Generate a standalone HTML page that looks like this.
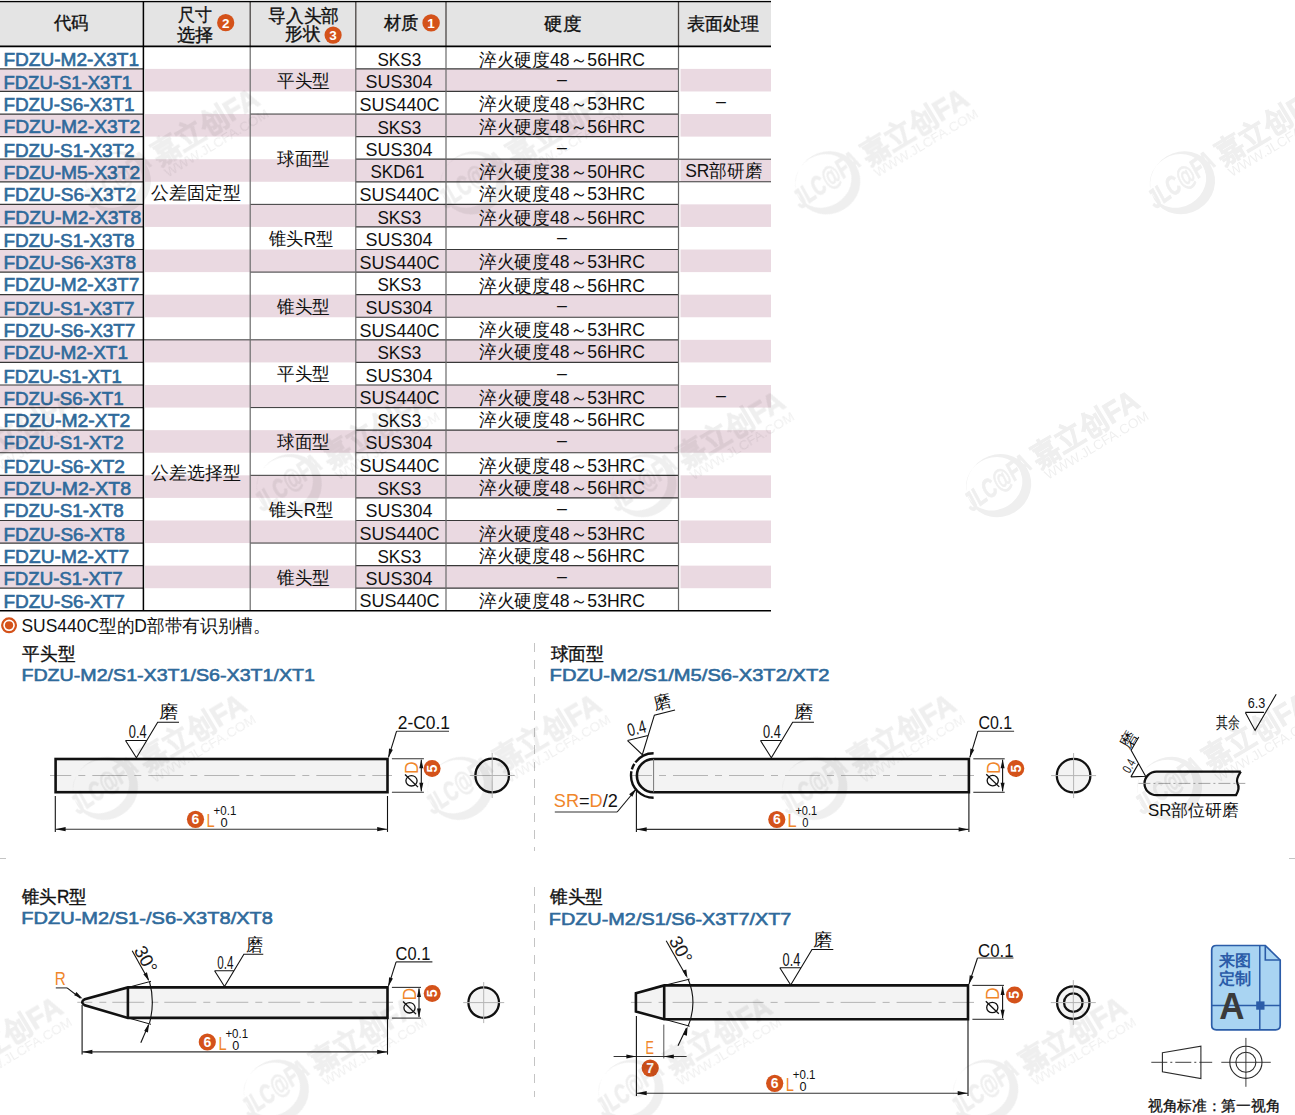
<!DOCTYPE html>
<html><head><meta charset="utf-8"><style>
html,body{margin:0;padding:0;background:#fff;}
body{width:1295px;height:1115px;overflow:hidden;position:relative;}
svg{position:absolute;left:0;top:0;}
svg text{font-family:"Liberation Sans", sans-serif;}
</style></head><body>
<svg width="1295" height="1115" viewBox="0 0 1295 1115">
<rect x="0.00" y="0.00" width="771.00" height="46.30" fill="#e4e4e4" />
<rect x="0.00" y="68.88" width="143.00" height="22.58" fill="#ead9e1" />
<rect x="145.00" y="68.88" width="105.20" height="22.58" fill="#ead9e1" />
<rect x="250.20" y="68.88" width="428.30" height="22.58" fill="#ead9e1" />
<rect x="680.50" y="68.88" width="90.50" height="22.58" fill="#ead9e1" />
<rect x="0.00" y="114.04" width="143.00" height="22.58" fill="#ead9e1" />
<rect x="145.00" y="114.04" width="105.20" height="22.58" fill="#ead9e1" />
<rect x="250.20" y="114.04" width="428.30" height="22.58" fill="#ead9e1" />
<rect x="680.50" y="114.04" width="90.50" height="22.58" fill="#ead9e1" />
<rect x="0.00" y="159.20" width="143.00" height="22.58" fill="#ead9e1" />
<rect x="145.00" y="159.20" width="105.20" height="22.58" fill="#ead9e1" />
<rect x="250.20" y="159.20" width="428.30" height="22.58" fill="#ead9e1" />
<rect x="680.50" y="159.20" width="90.50" height="22.58" fill="#ead9e1" />
<rect x="0.00" y="204.36" width="143.00" height="22.58" fill="#ead9e1" />
<rect x="145.00" y="204.36" width="105.20" height="22.58" fill="#ead9e1" />
<rect x="250.20" y="204.36" width="428.30" height="22.58" fill="#ead9e1" />
<rect x="680.50" y="204.36" width="90.50" height="22.58" fill="#ead9e1" />
<rect x="0.00" y="249.52" width="143.00" height="22.58" fill="#ead9e1" />
<rect x="145.00" y="249.52" width="105.20" height="22.58" fill="#ead9e1" />
<rect x="250.20" y="249.52" width="428.30" height="22.58" fill="#ead9e1" />
<rect x="680.50" y="249.52" width="90.50" height="22.58" fill="#ead9e1" />
<rect x="0.00" y="294.68" width="143.00" height="22.58" fill="#ead9e1" />
<rect x="145.00" y="294.68" width="105.20" height="22.58" fill="#ead9e1" />
<rect x="250.20" y="294.68" width="428.30" height="22.58" fill="#ead9e1" />
<rect x="680.50" y="294.68" width="90.50" height="22.58" fill="#ead9e1" />
<rect x="0.00" y="339.84" width="143.00" height="22.58" fill="#ead9e1" />
<rect x="145.00" y="339.84" width="105.20" height="22.58" fill="#ead9e1" />
<rect x="250.20" y="339.84" width="428.30" height="22.58" fill="#ead9e1" />
<rect x="680.50" y="339.84" width="90.50" height="22.58" fill="#ead9e1" />
<rect x="0.00" y="385.00" width="143.00" height="22.58" fill="#ead9e1" />
<rect x="145.00" y="385.00" width="105.20" height="22.58" fill="#ead9e1" />
<rect x="250.20" y="385.00" width="428.30" height="22.58" fill="#ead9e1" />
<rect x="680.50" y="385.00" width="90.50" height="22.58" fill="#ead9e1" />
<rect x="0.00" y="430.16" width="143.00" height="22.58" fill="#ead9e1" />
<rect x="145.00" y="430.16" width="105.20" height="22.58" fill="#ead9e1" />
<rect x="250.20" y="430.16" width="428.30" height="22.58" fill="#ead9e1" />
<rect x="680.50" y="430.16" width="90.50" height="22.58" fill="#ead9e1" />
<rect x="0.00" y="475.32" width="143.00" height="22.58" fill="#ead9e1" />
<rect x="145.00" y="475.32" width="105.20" height="22.58" fill="#ead9e1" />
<rect x="250.20" y="475.32" width="428.30" height="22.58" fill="#ead9e1" />
<rect x="680.50" y="475.32" width="90.50" height="22.58" fill="#ead9e1" />
<rect x="0.00" y="520.48" width="143.00" height="22.58" fill="#ead9e1" />
<rect x="145.00" y="520.48" width="105.20" height="22.58" fill="#ead9e1" />
<rect x="250.20" y="520.48" width="428.30" height="22.58" fill="#ead9e1" />
<rect x="680.50" y="520.48" width="90.50" height="22.58" fill="#ead9e1" />
<rect x="0.00" y="565.64" width="143.00" height="22.58" fill="#ead9e1" />
<rect x="145.00" y="565.64" width="105.20" height="22.58" fill="#ead9e1" />
<rect x="250.20" y="565.64" width="428.30" height="22.58" fill="#ead9e1" />
<rect x="680.50" y="565.64" width="90.50" height="22.58" fill="#ead9e1" />
<line x1="0.00" y1="68.88" x2="143.00" y2="68.88" stroke="#383838" stroke-width="1.2" />
<line x1="355.80" y1="68.88" x2="678.50" y2="68.88" stroke="#383838" stroke-width="1.2" />
<line x1="0.00" y1="91.46" x2="143.00" y2="91.46" stroke="#383838" stroke-width="1.2" />
<line x1="355.80" y1="91.46" x2="678.50" y2="91.46" stroke="#383838" stroke-width="1.2" />
<line x1="0.00" y1="114.04" x2="143.00" y2="114.04" stroke="#383838" stroke-width="1.2" />
<line x1="355.80" y1="114.04" x2="678.50" y2="114.04" stroke="#383838" stroke-width="1.2" />
<line x1="0.00" y1="136.62" x2="143.00" y2="136.62" stroke="#383838" stroke-width="1.2" />
<line x1="355.80" y1="136.62" x2="678.50" y2="136.62" stroke="#383838" stroke-width="1.2" />
<line x1="0.00" y1="159.20" x2="143.00" y2="159.20" stroke="#383838" stroke-width="1.2" />
<line x1="355.80" y1="159.20" x2="678.50" y2="159.20" stroke="#383838" stroke-width="1.2" />
<line x1="0.00" y1="181.78" x2="143.00" y2="181.78" stroke="#383838" stroke-width="1.2" />
<line x1="355.80" y1="181.78" x2="678.50" y2="181.78" stroke="#383838" stroke-width="1.2" />
<line x1="0.00" y1="204.36" x2="143.00" y2="204.36" stroke="#383838" stroke-width="1.2" />
<line x1="355.80" y1="204.36" x2="678.50" y2="204.36" stroke="#383838" stroke-width="1.2" />
<line x1="0.00" y1="226.94" x2="143.00" y2="226.94" stroke="#383838" stroke-width="1.2" />
<line x1="355.80" y1="226.94" x2="678.50" y2="226.94" stroke="#383838" stroke-width="1.2" />
<line x1="0.00" y1="249.52" x2="143.00" y2="249.52" stroke="#383838" stroke-width="1.2" />
<line x1="355.80" y1="249.52" x2="678.50" y2="249.52" stroke="#383838" stroke-width="1.2" />
<line x1="0.00" y1="272.10" x2="143.00" y2="272.10" stroke="#383838" stroke-width="1.2" />
<line x1="355.80" y1="272.10" x2="678.50" y2="272.10" stroke="#383838" stroke-width="1.2" />
<line x1="0.00" y1="294.68" x2="143.00" y2="294.68" stroke="#383838" stroke-width="1.2" />
<line x1="355.80" y1="294.68" x2="678.50" y2="294.68" stroke="#383838" stroke-width="1.2" />
<line x1="0.00" y1="317.26" x2="143.00" y2="317.26" stroke="#383838" stroke-width="1.2" />
<line x1="355.80" y1="317.26" x2="678.50" y2="317.26" stroke="#383838" stroke-width="1.2" />
<line x1="0.00" y1="339.84" x2="143.00" y2="339.84" stroke="#383838" stroke-width="1.2" />
<line x1="355.80" y1="339.84" x2="678.50" y2="339.84" stroke="#383838" stroke-width="1.2" />
<line x1="0.00" y1="362.42" x2="143.00" y2="362.42" stroke="#383838" stroke-width="1.2" />
<line x1="355.80" y1="362.42" x2="678.50" y2="362.42" stroke="#383838" stroke-width="1.2" />
<line x1="0.00" y1="385.00" x2="143.00" y2="385.00" stroke="#383838" stroke-width="1.2" />
<line x1="355.80" y1="385.00" x2="678.50" y2="385.00" stroke="#383838" stroke-width="1.2" />
<line x1="0.00" y1="407.58" x2="143.00" y2="407.58" stroke="#383838" stroke-width="1.2" />
<line x1="355.80" y1="407.58" x2="678.50" y2="407.58" stroke="#383838" stroke-width="1.2" />
<line x1="0.00" y1="430.16" x2="143.00" y2="430.16" stroke="#383838" stroke-width="1.2" />
<line x1="355.80" y1="430.16" x2="678.50" y2="430.16" stroke="#383838" stroke-width="1.2" />
<line x1="0.00" y1="452.74" x2="143.00" y2="452.74" stroke="#383838" stroke-width="1.2" />
<line x1="355.80" y1="452.74" x2="678.50" y2="452.74" stroke="#383838" stroke-width="1.2" />
<line x1="0.00" y1="475.32" x2="143.00" y2="475.32" stroke="#383838" stroke-width="1.2" />
<line x1="355.80" y1="475.32" x2="678.50" y2="475.32" stroke="#383838" stroke-width="1.2" />
<line x1="0.00" y1="497.90" x2="143.00" y2="497.90" stroke="#383838" stroke-width="1.2" />
<line x1="355.80" y1="497.90" x2="678.50" y2="497.90" stroke="#383838" stroke-width="1.2" />
<line x1="0.00" y1="520.48" x2="143.00" y2="520.48" stroke="#383838" stroke-width="1.2" />
<line x1="355.80" y1="520.48" x2="678.50" y2="520.48" stroke="#383838" stroke-width="1.2" />
<line x1="0.00" y1="543.06" x2="143.00" y2="543.06" stroke="#383838" stroke-width="1.2" />
<line x1="355.80" y1="543.06" x2="678.50" y2="543.06" stroke="#383838" stroke-width="1.2" />
<line x1="0.00" y1="565.64" x2="143.00" y2="565.64" stroke="#383838" stroke-width="1.2" />
<line x1="355.80" y1="565.64" x2="678.50" y2="565.64" stroke="#383838" stroke-width="1.2" />
<line x1="0.00" y1="588.22" x2="143.00" y2="588.22" stroke="#383838" stroke-width="1.2" />
<line x1="355.80" y1="588.22" x2="678.50" y2="588.22" stroke="#383838" stroke-width="1.2" />
<line x1="250.20" y1="114.04" x2="355.80" y2="114.04" stroke="#383838" stroke-width="1.0" />
<line x1="250.20" y1="204.36" x2="355.80" y2="204.36" stroke="#383838" stroke-width="1.0" />
<line x1="250.20" y1="272.10" x2="355.80" y2="272.10" stroke="#383838" stroke-width="1.0" />
<line x1="250.20" y1="339.84" x2="355.80" y2="339.84" stroke="#383838" stroke-width="1.0" />
<line x1="250.20" y1="407.58" x2="355.80" y2="407.58" stroke="#383838" stroke-width="1.0" />
<line x1="250.20" y1="475.32" x2="355.80" y2="475.32" stroke="#383838" stroke-width="1.0" />
<line x1="250.20" y1="543.06" x2="355.80" y2="543.06" stroke="#383838" stroke-width="1.0" />
<line x1="143.00" y1="339.84" x2="250.20" y2="339.84" stroke="#383838" stroke-width="1.0" />
<line x1="678.50" y1="159.20" x2="771.00" y2="159.20" stroke="#383838" stroke-width="1.0" />
<line x1="678.50" y1="181.78" x2="771.00" y2="181.78" stroke="#383838" stroke-width="1.0" />
<line x1="143.40" y1="1.60" x2="143.40" y2="610.80" stroke="#000" stroke-width="1.5" />
<line x1="250.20" y1="1.60" x2="250.20" y2="46.30" stroke="#4a4644" stroke-width="1.3" />
<line x1="250.20" y1="46.30" x2="250.20" y2="610.80" stroke="#6a6a6a" stroke-width="1.2" />
<line x1="355.80" y1="1.60" x2="355.80" y2="46.30" stroke="#4a4644" stroke-width="1.3" />
<line x1="355.80" y1="46.30" x2="355.80" y2="610.80" stroke="#6a6a6a" stroke-width="1.2" />
<line x1="446.00" y1="1.60" x2="446.00" y2="46.30" stroke="#4a4644" stroke-width="1.3" />
<line x1="446.00" y1="46.30" x2="446.00" y2="610.80" stroke="#6a6a6a" stroke-width="1.2" />
<line x1="678.50" y1="1.60" x2="678.50" y2="46.30" stroke="#4a4644" stroke-width="1.3" />
<line x1="678.50" y1="46.30" x2="678.50" y2="610.80" stroke="#6a6a6a" stroke-width="1.2" />
<line x1="0.00" y1="1.60" x2="771.00" y2="1.60" stroke="#000" stroke-width="1.2" />
<line x1="0.00" y1="46.30" x2="771.00" y2="46.30" stroke="#000" stroke-width="1.8" />
<line x1="0.00" y1="610.80" x2="771.00" y2="610.80" stroke="#000" stroke-width="1.6" />
<circle cx="225.70" cy="22.70" r="8.6" fill="#d4521a"/>
<circle cx="333.10" cy="35.10" r="8.6" fill="#d4521a"/>
<circle cx="431.10" cy="22.90" r="8.7" fill="#d4521a"/>
<circle cx="9.05" cy="625.3" r="6.9" fill="none" stroke="#d4521a" stroke-width="2.2"/>
<circle cx="9.05" cy="625.3" r="4.1" fill="#d4521a"/>
<line x1="534.50" y1="643.00" x2="534.50" y2="851.00" stroke="#c4c4c4" stroke-width="1" stroke-dasharray="9 8"/>
<line x1="534.50" y1="887.00" x2="534.50" y2="1097.00" stroke="#c4c4c4" stroke-width="1" stroke-dasharray="9 8"/>
<line x1="0.00" y1="858.50" x2="6.00" y2="858.50" stroke="#c4c4c4" stroke-width="1" />
<line x1="1289.00" y1="858.50" x2="1295.00" y2="858.50" stroke="#c4c4c4" stroke-width="1" />
<rect x="55.6" y="759" width="331.9" height="33.2" fill="#f3f3f3"/>
<line x1="50.00" y1="775.50" x2="392.00" y2="775.50" stroke="#b4b4b4" stroke-width="1" stroke-dasharray="35 7 7 7" stroke-dashoffset="13.7"/>
<rect x="55.6" y="759" width="331.9" height="33.2" fill="none" stroke="#111" stroke-width="2.6"/>
<path d="M125.50,740.50 L146.70,740.50 M125.50,740.50 L136.40,757.80 L157.70,722.30 L179.00,722.30" fill="none" stroke="#111" stroke-width="1.1" />
<line x1="396.60" y1="731.20" x2="449.00" y2="731.20" stroke="#333" stroke-width="1.1" />
<line x1="396.60" y1="731.20" x2="388.50" y2="757.30" stroke="#111" stroke-width="1.1" />
<path d="M388.30,757.80 L389.07,748.61 L392.89,749.80 Z" fill="#111"/>
<line x1="391.90" y1="758.80" x2="423.90" y2="758.80" stroke="#333" stroke-width="1.1" />
<line x1="391.90" y1="792.30" x2="423.90" y2="792.30" stroke="#333" stroke-width="1.1" />
<line x1="421.30" y1="759.80" x2="421.30" y2="791.30" stroke="#111" stroke-width="1.1" />
<path d="M421.30,759.30 L423.30,768.30 L419.30,768.30 Z" fill="#111"/>
<path d="M421.30,791.80 L419.30,782.80 L423.30,782.80 Z" fill="#111"/>
<ellipse cx="411.50" cy="780.80" rx="5.6" ry="5.2" fill="none" stroke="#111" stroke-width="1.3"/>
<line x1="405.00" y1="774.50" x2="418.00" y2="787.10" stroke="#111" stroke-width="1.3" />
<circle cx="432.10" cy="768.50" r="8.5" fill="#d4521a"/>
<circle cx="492.2" cy="775.5" r="16.8" fill="#f3f3f3" stroke="#111" stroke-width="2.3"/>
<line x1="469.70" y1="775.50" x2="514.70" y2="775.50" stroke="#b4b4b4" stroke-width="1" />
<line x1="492.20" y1="753.00" x2="492.20" y2="798.00" stroke="#b4b4b4" stroke-width="1" />
<line x1="55.30" y1="796.00" x2="55.30" y2="831.90" stroke="#111" stroke-width="1.1" />
<line x1="387.50" y1="796.00" x2="387.50" y2="831.90" stroke="#111" stroke-width="1.1" />
<line x1="55.30" y1="829.20" x2="387.50" y2="829.20" stroke="#333" stroke-width="1.1" />
<path d="M55.60,829.20 L65.60,827.10 L65.60,831.30 Z" fill="#111"/>
<path d="M387.20,829.20 L377.20,831.30 L377.20,827.10 Z" fill="#111"/>
<circle cx="195.50" cy="819.30" r="8.6" fill="#d4521a"/>
<path d="M968.9,759 L653.6,759 A16.7,16.65 0 0 0 653.6,792.3 L968.9,792.3 Z" fill="#f3f3f3" stroke="none" stroke-width="1" />
<line x1="632.00" y1="775.50" x2="974.00" y2="775.50" stroke="#b4b4b4" stroke-width="1" stroke-dasharray="35 7 7 7" stroke-dashoffset="15"/>
<path d="M968.9,759 L653.6,759 A16.7,16.65 0 0 0 653.6,792.3 L968.9,792.3 Z" fill="none" stroke="#111" stroke-width="2.6" />
<line x1="653.60" y1="759.00" x2="653.60" y2="792.30" stroke="#777" stroke-width="1" />
<path d="M653.6,753.2 A22.6,22.3 0 0 0 653.6,797.8" fill="none" stroke="#111" stroke-width="2.4" stroke-dasharray="21 1.8 6 1.8 40"/>
<path d="M760.45,740.50 L781.65,740.50 M760.45,740.50 L771.35,757.80 L792.65,722.30 L813.95,722.30" fill="none" stroke="#111" stroke-width="1.1" />
<g transform="translate(642.3 754.7) rotate(-14) scale(1.0)">
<path d="M-10.9,-17.3 L10.3,-17.3 M-10.9,-17.3 L0,0 L21.3,-35.5 L42.6,-35.5" fill="none" stroke="#111" stroke-width="1.10"/>
<text x="-8.4" y="-20.9" font-size="18" fill="#111" textLength="18.6" lengthAdjust="spacingAndGlyphs">0.4</text>
<text x="22.60" y="-40.10" font-size="17.50" fill="#111" textLength="18.60" lengthAdjust="spacingAndGlyphs">磨</text>
</g>
<line x1="554.80" y1="812.00" x2="617.20" y2="812.00" stroke="#333" stroke-width="1.1" />
<line x1="617.20" y1="812.00" x2="635.50" y2="790.00" stroke="#111" stroke-width="1.1" />
<path d="M636.40,788.60 L632.24,796.83 L629.15,794.29 Z" fill="#111"/>
<line x1="977.90" y1="731.20" x2="1014.10" y2="731.20" stroke="#333" stroke-width="1.1" />
<line x1="977.90" y1="731.20" x2="969.90" y2="757.30" stroke="#111" stroke-width="1.1" />
<path d="M969.70,757.80 L970.44,748.61 L974.26,749.79 Z" fill="#111"/>
<line x1="973.30" y1="758.80" x2="1004.70" y2="758.80" stroke="#333" stroke-width="1.1" />
<line x1="973.30" y1="792.30" x2="1004.70" y2="792.30" stroke="#333" stroke-width="1.1" />
<line x1="1002.60" y1="759.80" x2="1002.60" y2="791.30" stroke="#111" stroke-width="1.1" />
<path d="M1002.60,759.30 L1004.60,768.30 L1000.60,768.30 Z" fill="#111"/>
<path d="M1002.60,791.80 L1000.60,782.80 L1004.60,782.80 Z" fill="#111"/>
<ellipse cx="992.75" cy="780.60" rx="5.6" ry="5.2" fill="none" stroke="#111" stroke-width="1.3"/>
<line x1="986.25" y1="774.30" x2="999.25" y2="786.90" stroke="#111" stroke-width="1.3" />
<circle cx="1015.80" cy="768.50" r="8.5" fill="#d4521a"/>
<circle cx="1073.6" cy="775.6" r="16.8" fill="#f3f3f3" stroke="#111" stroke-width="2.3"/>
<line x1="1051.10" y1="775.60" x2="1096.10" y2="775.60" stroke="#b4b4b4" stroke-width="1" />
<line x1="1073.60" y1="753.10" x2="1073.60" y2="798.10" stroke="#b4b4b4" stroke-width="1" />
<line x1="636.40" y1="790.00" x2="636.40" y2="832.10" stroke="#111" stroke-width="1.1" />
<line x1="968.90" y1="790.00" x2="968.90" y2="832.10" stroke="#111" stroke-width="1.1" />
<line x1="636.40" y1="829.40" x2="968.90" y2="829.40" stroke="#333" stroke-width="1.1" />
<path d="M636.70,829.40 L646.70,827.30 L646.70,831.50 Z" fill="#111"/>
<path d="M968.60,829.40 L958.60,831.50 L958.60,827.30 Z" fill="#111"/>
<circle cx="776.80" cy="819.50" r="8.6" fill="#d4521a"/>
<path d="M1240.8,771.6 L1156.5,771.6 A12,11.8 0 0 0 1156.5,795.2 L1236,795.2 C1238.5,791 1239.5,787 1237.5,783.4 C1235.5,779.5 1238.5,775 1240.8,771.6" fill="#f3f3f3" stroke="#111" stroke-width="2.3" />
<line x1="1138.40" y1="783.40" x2="1245.30" y2="783.40" stroke="#9a9a9a" stroke-width="0.9" stroke-dasharray="12 3 2 3"/>
<g transform="translate(1145.6 776.3) rotate(-60) scale(0.72)">
<path d="M-10.9,-17.3 L10.3,-17.3 M-10.9,-17.3 L0,0 L21.3,-35.5 L42.6,-35.5" fill="none" stroke="#111" stroke-width="1.53"/>
<text x="-8.4" y="-20.9" font-size="18" fill="#111" textLength="18.6" lengthAdjust="spacingAndGlyphs">0.4</text>
<text x="19.62" y="-38.16" font-size="23.10" fill="#111" textLength="24.55" lengthAdjust="spacingAndGlyphs">磨</text>
</g>
<path d="M1245.3,712.4 L1264.1,712.4 M1245.3,712.4 L1255.1,730.4 L1276.2,694.3" fill="none" stroke="#111" stroke-width="1.1" />
<path d="M387.5,987.4 L127.9,987.4 L84.8,999.2 Q79.6,1002.2 84.8,1005.3 L127.9,1017.9 L387.5,1017.9 Z" fill="#f3f3f3" stroke="none" stroke-width="1" />
<line x1="77.30" y1="1002.30" x2="393.00" y2="1002.30" stroke="#b4b4b4" stroke-width="1" stroke-dasharray="32 7 7 6" stroke-dashoffset="17"/>
<path d="M387.5,987.4 L127.9,987.4 L84.8,999.2 Q79.6,1002.2 84.8,1005.3 L127.9,1017.9 L387.5,1017.9 Z" fill="none" stroke="#111" stroke-width="2.6" />
<line x1="127.90" y1="987.40" x2="127.90" y2="1017.90" stroke="#111" stroke-width="2.6" />
<line x1="128.00" y1="987.40" x2="151.00" y2="981.30" stroke="#111" stroke-width="1" />
<line x1="128.00" y1="1017.90" x2="151.00" y2="1024.30" stroke="#111" stroke-width="1" />
<path d="M149.5,981.5 A78.8,78.8 0 0 1 149.5,1023.1" fill="none" stroke="#111" stroke-width="1.1" />
<line x1="132.20" y1="950.80" x2="148.50" y2="980.00" stroke="#111" stroke-width="1.1" />
<line x1="140.80" y1="1042.80" x2="148.50" y2="1025.00" stroke="#111" stroke-width="1.1" />
<path d="M149.20,981.30 L143.39,974.14 L146.96,972.36 Z" fill="#111"/>
<path d="M149.20,1023.30 L147.91,1032.43 L144.17,1031.02 Z" fill="#111"/>
<line x1="55.80" y1="987.90" x2="67.10" y2="987.90" stroke="#333" stroke-width="1.1" />
<line x1="67.10" y1="987.90" x2="80.50" y2="998.20" stroke="#111" stroke-width="1.1" />
<path d="M82.70,998.70 L74.16,995.22 L76.44,991.93 Z" fill="#111"/>
<path d="M214.58,970.76 L233.87,970.76 M214.58,970.76 L224.50,986.50 L243.88,954.20 L263.27,954.20" fill="none" stroke="#111" stroke-width="1.1" />
<line x1="396.10" y1="961.90" x2="432.40" y2="961.90" stroke="#333" stroke-width="1.1" />
<line x1="396.10" y1="961.90" x2="388.50" y2="985.90" stroke="#111" stroke-width="1.1" />
<path d="M388.30,986.40 L389.12,977.22 L392.94,978.43 Z" fill="#111"/>
<line x1="391.90" y1="987.40" x2="421.00" y2="987.40" stroke="#333" stroke-width="1.1" />
<line x1="391.90" y1="1018.10" x2="421.00" y2="1018.10" stroke="#333" stroke-width="1.1" />
<line x1="419.00" y1="988.40" x2="419.00" y2="1017.10" stroke="#111" stroke-width="1.1" />
<path d="M419.00,987.90 L421.00,996.90 L417.00,996.90 Z" fill="#111"/>
<path d="M419.00,1017.60 L417.00,1008.60 L421.00,1008.60 Z" fill="#111"/>
<ellipse cx="409.50" cy="1007.80" rx="5.6" ry="5.2" fill="none" stroke="#111" stroke-width="1.3"/>
<line x1="403.00" y1="1001.50" x2="416.00" y2="1014.10" stroke="#111" stroke-width="1.3" />
<circle cx="432.20" cy="993.40" r="8.5" fill="#d4521a"/>
<circle cx="483.7" cy="1002.6" r="15.3" fill="#f3f3f3" stroke="#111" stroke-width="2.3"/>
<line x1="463.20" y1="1002.60" x2="504.20" y2="1002.60" stroke="#b4b4b4" stroke-width="1" />
<line x1="483.70" y1="982.10" x2="483.70" y2="1023.10" stroke="#b4b4b4" stroke-width="1" />
<line x1="82.10" y1="1005.00" x2="82.10" y2="1054.60" stroke="#111" stroke-width="1.1" />
<line x1="387.50" y1="1005.00" x2="387.50" y2="1054.60" stroke="#111" stroke-width="1.1" />
<line x1="82.10" y1="1051.90" x2="387.50" y2="1051.90" stroke="#333" stroke-width="1.1" />
<path d="M82.40,1051.90 L92.40,1049.80 L92.40,1054.00 Z" fill="#111"/>
<path d="M387.20,1051.90 L377.20,1054.00 L377.20,1049.80 Z" fill="#111"/>
<circle cx="207.30" cy="1042.00" r="8.6" fill="#d4521a"/>
<path d="M968,985.4 L664.2,985.4 L635.9,993.3 L635.9,1011.4 L664.2,1019.2 L968,1019.2 Z" fill="#f3f3f3" stroke="none" stroke-width="1" />
<line x1="630.90" y1="1002.40" x2="974.00" y2="1002.40" stroke="#b4b4b4" stroke-width="1" stroke-dasharray="35 7 7 7" stroke-dashoffset="14.3"/>
<path d="M968,985.4 L664.2,985.4 L635.9,993.3 L635.9,1011.4 L664.2,1019.2 L968,1019.2 Z" fill="none" stroke="#111" stroke-width="2.6" />
<line x1="664.20" y1="985.40" x2="664.20" y2="1019.20" stroke="#111" stroke-width="2.6" />
<line x1="664.20" y1="985.40" x2="689.70" y2="979.10" stroke="#111" stroke-width="1" />
<line x1="664.20" y1="1019.20" x2="689.70" y2="1026.20" stroke="#111" stroke-width="1" />
<path d="M688,978.8 A62,62 0 0 1 688,1026.4" fill="none" stroke="#111" stroke-width="1.1" />
<line x1="666.20" y1="940.70" x2="686.20" y2="976.00" stroke="#111" stroke-width="1.1" />
<line x1="678.00" y1="1045.80" x2="686.50" y2="1028.00" stroke="#111" stroke-width="1.1" />
<path d="M687.50,978.60 L682.54,970.83 L686.30,969.46 Z" fill="#111"/>
<path d="M687.60,1026.50 L686.90,1035.69 L683.08,1034.53 Z" fill="#111"/>
<path d="M779.80,967.70 L801.00,967.70 M779.80,967.70 L790.70,985.00 L812.00,949.50 L833.30,949.50" fill="none" stroke="#111" stroke-width="1.1" />
<line x1="977.50" y1="958.00" x2="1013.50" y2="958.00" stroke="#333" stroke-width="1.1" />
<line x1="977.50" y1="958.00" x2="969.00" y2="983.90" stroke="#111" stroke-width="1.1" />
<path d="M968.80,984.40 L969.72,975.23 L973.52,976.48 Z" fill="#111"/>
<line x1="972.40" y1="985.40" x2="1004.00" y2="985.40" stroke="#333" stroke-width="1.1" />
<line x1="972.40" y1="1019.30" x2="1004.00" y2="1019.30" stroke="#333" stroke-width="1.1" />
<line x1="1002.60" y1="986.40" x2="1002.60" y2="1018.30" stroke="#111" stroke-width="1.1" />
<path d="M1002.60,985.90 L1004.60,994.90 L1000.60,994.90 Z" fill="#111"/>
<path d="M1002.60,1018.80 L1000.60,1009.80 L1004.60,1009.80 Z" fill="#111"/>
<ellipse cx="992.30" cy="1007.50" rx="5.6" ry="5.2" fill="none" stroke="#111" stroke-width="1.3"/>
<line x1="985.80" y1="1001.20" x2="998.80" y2="1013.80" stroke="#111" stroke-width="1.3" />
<circle cx="1014.50" cy="994.90" r="8.5" fill="#d4521a"/>
<circle cx="1073.3" cy="1002.6" r="16.2" fill="#f3f3f3" stroke="#111" stroke-width="2.3"/>
<circle cx="1073.3" cy="1002.6" r="9.3" fill="none" stroke="#111" stroke-width="2.3"/>
<line x1="1050.80" y1="1002.60" x2="1095.80" y2="1002.60" stroke="#b4b4b4" stroke-width="1" />
<line x1="1073.30" y1="980.10" x2="1073.30" y2="1025.10" stroke="#b4b4b4" stroke-width="1" />
<line x1="663.80" y1="1024.60" x2="663.80" y2="1058.40" stroke="#555" stroke-width="1" />
<line x1="613.60" y1="1056.50" x2="686.60" y2="1056.50" stroke="#333" stroke-width="1.1" />
<path d="M636.40,1056.50 L626.40,1058.50 L626.40,1054.50 Z" fill="#111"/>
<path d="M663.80,1056.50 L673.80,1054.50 L673.80,1058.50 Z" fill="#111"/>
<circle cx="650.20" cy="1068.10" r="8.6" fill="#d4521a"/>
<line x1="636.40" y1="1016.00" x2="636.40" y2="1095.90" stroke="#111" stroke-width="1.1" />
<line x1="968.00" y1="1016.00" x2="968.00" y2="1095.90" stroke="#111" stroke-width="1.1" />
<line x1="636.40" y1="1093.20" x2="968.00" y2="1093.20" stroke="#333" stroke-width="1.1" />
<path d="M636.70,1093.20 L646.70,1091.10 L646.70,1095.30 Z" fill="#111"/>
<path d="M967.70,1093.20 L957.70,1095.30 L957.70,1091.10 Z" fill="#111"/>
<circle cx="774.70" cy="1083.30" r="8.6" fill="#d4521a"/>
<path d="M1216.3,945.5 L1265.3,945.5 L1280.2,960 L1280.2,1025.3 Q1280.2,1029.9 1275.6,1029.9 L1216.3,1029.9 Q1211.7,1029.9 1211.7,1025.3 L1211.7,950.1 Q1211.7,945.5 1216.3,945.5 Z" fill="#a9d4f2" stroke="#2b5ca8" stroke-width="1.7" />
<path d="M1265.3,945.5 L1265.3,960 L1280.2,960" fill="none" stroke="#2b5ca8" stroke-width="1.6" />
<line x1="1259.80" y1="945.50" x2="1259.80" y2="1029.90" stroke="#2b5ca8" stroke-width="1.5" />
<line x1="1211.70" y1="1005.50" x2="1280.20" y2="1005.50" stroke="#2b5ca8" stroke-width="1.5" />
<rect x="1256.20" y="1001.40" width="8.30" height="8.30" fill="#2b5ca8" />
<path d="M1162.4,1052.8 L1200.9,1046.2 L1200.9,1078.5 L1162.4,1071.9 Z" fill="none" stroke="#2a2a2a" stroke-width="1.1" />
<line x1="1151.30" y1="1062.30" x2="1212.20" y2="1062.30" stroke="#2a2a2a" stroke-width="0.9" stroke-dasharray="16 3 2 3"/>
<circle cx="1245.9" cy="1062.3" r="16.1" fill="none" stroke="#2a2a2a" stroke-width="1.1"/>
<circle cx="1245.9" cy="1062.3" r="10" fill="none" stroke="#2a2a2a" stroke-width="1.1"/>
<line x1="1221.30" y1="1062.30" x2="1270.80" y2="1062.30" stroke="#2a2a2a" stroke-width="0.9" />
<line x1="1245.90" y1="1037.90" x2="1245.90" y2="1086.80" stroke="#2a2a2a" stroke-width="0.9" />
<text x="53.80" y="28.60" font-size="18" fill="#111" font-weight="normal" stroke="#111" stroke-width="0.35" textLength="34.68" lengthAdjust="spacingAndGlyphs">代码</text>
<text x="177.80" y="21.25" font-size="18" fill="#111" font-weight="normal" stroke="#111" stroke-width="0.35" textLength="33.90" lengthAdjust="spacingAndGlyphs">尺寸</text>
<text x="177.00" y="40.50" font-size="18" fill="#111" font-weight="normal" stroke="#111" stroke-width="0.35" textLength="36.36" lengthAdjust="spacingAndGlyphs">选择</text>
<text x="225.70" y="27.50" font-size="13.5" font-weight="bold" text-anchor="middle" fill="#fff">2</text>
<text x="268.00" y="21.75" font-size="18" fill="#111" font-weight="normal" stroke="#111" stroke-width="0.35" textLength="71.00" lengthAdjust="spacingAndGlyphs">导入头部</text>
<text x="285.00" y="40.25" font-size="18" fill="#111" font-weight="normal" stroke="#111" stroke-width="0.35" textLength="35.34" lengthAdjust="spacingAndGlyphs">形状</text>
<text x="333.10" y="39.90" font-size="13.5" font-weight="bold" text-anchor="middle" fill="#fff">3</text>
<text x="384.20" y="29.10" font-size="18" fill="#111" font-weight="normal" stroke="#111" stroke-width="0.35" textLength="34.61" lengthAdjust="spacingAndGlyphs">材质</text>
<text x="431.10" y="27.70" font-size="13.5" font-weight="bold" text-anchor="middle" fill="#fff">1</text>
<text x="544.00" y="29.55" font-size="18" fill="#111" font-weight="normal" stroke="#111" stroke-width="0.35" textLength="37.07" lengthAdjust="spacingAndGlyphs">硬度</text>
<text x="686.80" y="29.55" font-size="18" fill="#111" font-weight="normal" stroke="#111" stroke-width="0.35" textLength="72.47" lengthAdjust="spacingAndGlyphs">表面处理</text>
<text x="3.40" y="65.65" font-size="17.6" fill="#2f6a9b" font-weight="normal" stroke="#2f6a9b" stroke-width="0.6" textLength="135.61" lengthAdjust="spacingAndGlyphs">FDZU-M2-X3T1</text>
<text x="377.40" y="65.68" font-size="17.7" fill="#111" font-weight="normal" textLength="43.85" lengthAdjust="spacingAndGlyphs">SKS3</text>
<text x="478.80" y="65.75" font-size="17.8" fill="#111" font-weight="normal" textLength="166.22" lengthAdjust="spacingAndGlyphs">淬火硬度48～56HRC</text>
<text x="3.40" y="88.93" font-size="17.6" fill="#2f6a9b" font-weight="normal" stroke="#2f6a9b" stroke-width="0.6" textLength="128.61" lengthAdjust="spacingAndGlyphs">FDZU-S1-X3T1</text>
<text x="365.60" y="87.96" font-size="17.7" fill="#111" font-weight="normal" textLength="66.82" lengthAdjust="spacingAndGlyphs">SUS304</text>
<text x="561.9" y="85.08" font-size="17.8" text-anchor="middle" fill="#111">–</text>
<text x="3.40" y="111.21" font-size="17.6" fill="#2f6a9b" font-weight="normal" stroke="#2f6a9b" stroke-width="0.6" textLength="131.23" lengthAdjust="spacingAndGlyphs">FDZU-S6-X3T1</text>
<text x="359.40" y="111.24" font-size="17.7" fill="#111" font-weight="normal" textLength="80.03" lengthAdjust="spacingAndGlyphs">SUS440C</text>
<text x="478.80" y="110.31" font-size="17.8" fill="#111" font-weight="normal" textLength="166.22" lengthAdjust="spacingAndGlyphs">淬火硬度48～53HRC</text>
<text x="3.40" y="133.49" font-size="17.6" fill="#2f6a9b" font-weight="normal" stroke="#2f6a9b" stroke-width="0.6" textLength="136.82" lengthAdjust="spacingAndGlyphs">FDZU-M2-X3T2</text>
<text x="377.40" y="133.52" font-size="17.7" fill="#111" font-weight="normal" textLength="43.85" lengthAdjust="spacingAndGlyphs">SKS3</text>
<text x="478.80" y="132.59" font-size="17.8" fill="#111" font-weight="normal" textLength="166.22" lengthAdjust="spacingAndGlyphs">淬火硬度48～56HRC</text>
<text x="3.40" y="156.77" font-size="17.6" fill="#2f6a9b" font-weight="normal" stroke="#2f6a9b" stroke-width="0.6" textLength="131.24" lengthAdjust="spacingAndGlyphs">FDZU-S1-X3T2</text>
<text x="365.60" y="155.80" font-size="17.7" fill="#111" font-weight="normal" textLength="66.82" lengthAdjust="spacingAndGlyphs">SUS304</text>
<text x="561.9" y="152.82" font-size="17.8" text-anchor="middle" fill="#111">–</text>
<text x="3.40" y="179.05" font-size="17.6" fill="#2f6a9b" font-weight="normal" stroke="#2f6a9b" stroke-width="0.6" textLength="136.82" lengthAdjust="spacingAndGlyphs">FDZU-M5-X3T2</text>
<text x="370.40" y="178.08" font-size="17.7" fill="#111" font-weight="normal" textLength="54.04" lengthAdjust="spacingAndGlyphs">SKD61</text>
<text x="478.80" y="178.15" font-size="17.8" fill="#111" font-weight="normal" textLength="166.22" lengthAdjust="spacingAndGlyphs">淬火硬度38～50HRC</text>
<text x="3.40" y="201.33" font-size="17.6" fill="#2f6a9b" font-weight="normal" stroke="#2f6a9b" stroke-width="0.6" textLength="132.62" lengthAdjust="spacingAndGlyphs">FDZU-S6-X3T2</text>
<text x="359.40" y="201.36" font-size="17.7" fill="#111" font-weight="normal" textLength="80.03" lengthAdjust="spacingAndGlyphs">SUS440C</text>
<text x="478.80" y="200.43" font-size="17.8" fill="#111" font-weight="normal" textLength="166.22" lengthAdjust="spacingAndGlyphs">淬火硬度48～53HRC</text>
<text x="3.40" y="223.61" font-size="17.6" fill="#2f6a9b" font-weight="normal" stroke="#2f6a9b" stroke-width="0.6" textLength="137.85" lengthAdjust="spacingAndGlyphs">FDZU-M2-X3T8</text>
<text x="377.40" y="223.64" font-size="17.7" fill="#111" font-weight="normal" textLength="43.85" lengthAdjust="spacingAndGlyphs">SKS3</text>
<text x="478.80" y="223.71" font-size="17.8" fill="#111" font-weight="normal" textLength="166.22" lengthAdjust="spacingAndGlyphs">淬火硬度48～56HRC</text>
<text x="3.40" y="246.89" font-size="17.6" fill="#2f6a9b" font-weight="normal" stroke="#2f6a9b" stroke-width="0.6" textLength="131.22" lengthAdjust="spacingAndGlyphs">FDZU-S1-X3T8</text>
<text x="365.60" y="245.92" font-size="17.7" fill="#111" font-weight="normal" textLength="66.82" lengthAdjust="spacingAndGlyphs">SUS304</text>
<text x="561.9" y="243.14" font-size="17.8" text-anchor="middle" fill="#111">–</text>
<text x="3.40" y="269.17" font-size="17.6" fill="#2f6a9b" font-weight="normal" stroke="#2f6a9b" stroke-width="0.6" textLength="132.63" lengthAdjust="spacingAndGlyphs">FDZU-S6-X3T8</text>
<text x="359.40" y="269.20" font-size="17.7" fill="#111" font-weight="normal" textLength="80.03" lengthAdjust="spacingAndGlyphs">SUS440C</text>
<text x="478.80" y="268.27" font-size="17.8" fill="#111" font-weight="normal" textLength="166.22" lengthAdjust="spacingAndGlyphs">淬火硬度48～53HRC</text>
<text x="3.40" y="291.45" font-size="17.6" fill="#2f6a9b" font-weight="normal" stroke="#2f6a9b" stroke-width="0.6" textLength="136.03" lengthAdjust="spacingAndGlyphs">FDZU-M2-X3T7</text>
<text x="377.40" y="291.48" font-size="17.7" fill="#111" font-weight="normal" textLength="43.85" lengthAdjust="spacingAndGlyphs">SKS3</text>
<text x="478.80" y="291.55" font-size="17.8" fill="#111" font-weight="normal" textLength="166.22" lengthAdjust="spacingAndGlyphs">淬火硬度48～56HRC</text>
<text x="3.40" y="314.73" font-size="17.6" fill="#2f6a9b" font-weight="normal" stroke="#2f6a9b" stroke-width="0.6" textLength="131.24" lengthAdjust="spacingAndGlyphs">FDZU-S1-X3T7</text>
<text x="365.60" y="313.76" font-size="17.7" fill="#111" font-weight="normal" textLength="66.82" lengthAdjust="spacingAndGlyphs">SUS304</text>
<text x="561.9" y="310.88" font-size="17.8" text-anchor="middle" fill="#111">–</text>
<text x="3.40" y="337.01" font-size="17.6" fill="#2f6a9b" font-weight="normal" stroke="#2f6a9b" stroke-width="0.6" textLength="132.06" lengthAdjust="spacingAndGlyphs">FDZU-S6-X3T7</text>
<text x="359.40" y="337.04" font-size="17.7" fill="#111" font-weight="normal" textLength="80.03" lengthAdjust="spacingAndGlyphs">SUS440C</text>
<text x="478.80" y="336.11" font-size="17.8" fill="#111" font-weight="normal" textLength="166.22" lengthAdjust="spacingAndGlyphs">淬火硬度48～53HRC</text>
<text x="3.40" y="359.29" font-size="17.6" fill="#2f6a9b" font-weight="normal" stroke="#2f6a9b" stroke-width="0.6" textLength="124.61" lengthAdjust="spacingAndGlyphs">FDZU-M2-XT1</text>
<text x="377.40" y="359.32" font-size="17.7" fill="#111" font-weight="normal" textLength="43.85" lengthAdjust="spacingAndGlyphs">SKS3</text>
<text x="478.80" y="358.39" font-size="17.8" fill="#111" font-weight="normal" textLength="166.22" lengthAdjust="spacingAndGlyphs">淬火硬度48～56HRC</text>
<text x="3.40" y="382.57" font-size="17.6" fill="#2f6a9b" font-weight="normal" stroke="#2f6a9b" stroke-width="0.6" textLength="118.44" lengthAdjust="spacingAndGlyphs">FDZU-S1-XT1</text>
<text x="365.60" y="381.60" font-size="17.7" fill="#111" font-weight="normal" textLength="66.82" lengthAdjust="spacingAndGlyphs">SUS304</text>
<text x="561.9" y="378.62" font-size="17.8" text-anchor="middle" fill="#111">–</text>
<text x="3.40" y="404.85" font-size="17.6" fill="#2f6a9b" font-weight="normal" stroke="#2f6a9b" stroke-width="0.6" textLength="120.22" lengthAdjust="spacingAndGlyphs">FDZU-S6-XT1</text>
<text x="359.40" y="403.88" font-size="17.7" fill="#111" font-weight="normal" textLength="80.03" lengthAdjust="spacingAndGlyphs">SUS440C</text>
<text x="478.80" y="403.95" font-size="17.8" fill="#111" font-weight="normal" textLength="166.22" lengthAdjust="spacingAndGlyphs">淬火硬度48～53HRC</text>
<text x="3.40" y="427.13" font-size="17.6" fill="#2f6a9b" font-weight="normal" stroke="#2f6a9b" stroke-width="0.6" textLength="126.83" lengthAdjust="spacingAndGlyphs">FDZU-M2-XT2</text>
<text x="377.40" y="427.16" font-size="17.7" fill="#111" font-weight="normal" textLength="43.85" lengthAdjust="spacingAndGlyphs">SKS3</text>
<text x="478.80" y="426.23" font-size="17.8" fill="#111" font-weight="normal" textLength="166.22" lengthAdjust="spacingAndGlyphs">淬火硬度48～56HRC</text>
<text x="3.40" y="449.41" font-size="17.6" fill="#2f6a9b" font-weight="normal" stroke="#2f6a9b" stroke-width="0.6" textLength="120.23" lengthAdjust="spacingAndGlyphs">FDZU-S1-XT2</text>
<text x="365.60" y="449.44" font-size="17.7" fill="#111" font-weight="normal" textLength="66.82" lengthAdjust="spacingAndGlyphs">SUS304</text>
<text x="561.9" y="446.36" font-size="17.8" text-anchor="middle" fill="#111">–</text>
<text x="3.40" y="472.69" font-size="17.6" fill="#2f6a9b" font-weight="normal" stroke="#2f6a9b" stroke-width="0.6" textLength="121.44" lengthAdjust="spacingAndGlyphs">FDZU-S6-XT2</text>
<text x="359.40" y="471.72" font-size="17.7" fill="#111" font-weight="normal" textLength="80.03" lengthAdjust="spacingAndGlyphs">SUS440C</text>
<text x="478.80" y="471.79" font-size="17.8" fill="#111" font-weight="normal" textLength="166.22" lengthAdjust="spacingAndGlyphs">淬火硬度48～53HRC</text>
<text x="3.40" y="494.97" font-size="17.6" fill="#2f6a9b" font-weight="normal" stroke="#2f6a9b" stroke-width="0.6" textLength="127.63" lengthAdjust="spacingAndGlyphs">FDZU-M2-XT8</text>
<text x="377.40" y="495.00" font-size="17.7" fill="#111" font-weight="normal" textLength="43.85" lengthAdjust="spacingAndGlyphs">SKS3</text>
<text x="478.80" y="494.07" font-size="17.8" fill="#111" font-weight="normal" textLength="166.22" lengthAdjust="spacingAndGlyphs">淬火硬度48～56HRC</text>
<text x="3.40" y="517.25" font-size="17.6" fill="#2f6a9b" font-weight="normal" stroke="#2f6a9b" stroke-width="0.6" textLength="120.24" lengthAdjust="spacingAndGlyphs">FDZU-S1-XT8</text>
<text x="365.60" y="517.28" font-size="17.7" fill="#111" font-weight="normal" textLength="66.82" lengthAdjust="spacingAndGlyphs">SUS304</text>
<text x="561.9" y="514.10" font-size="17.8" text-anchor="middle" fill="#111">–</text>
<text x="3.40" y="540.53" font-size="17.6" fill="#2f6a9b" font-weight="normal" stroke="#2f6a9b" stroke-width="0.6" textLength="121.44" lengthAdjust="spacingAndGlyphs">FDZU-S6-XT8</text>
<text x="359.40" y="539.56" font-size="17.7" fill="#111" font-weight="normal" textLength="80.03" lengthAdjust="spacingAndGlyphs">SUS440C</text>
<text x="478.80" y="539.63" font-size="17.8" fill="#111" font-weight="normal" textLength="166.22" lengthAdjust="spacingAndGlyphs">淬火硬度48～53HRC</text>
<text x="3.40" y="562.81" font-size="17.6" fill="#2f6a9b" font-weight="normal" stroke="#2f6a9b" stroke-width="0.6" textLength="125.82" lengthAdjust="spacingAndGlyphs">FDZU-M2-XT7</text>
<text x="377.40" y="562.84" font-size="17.7" fill="#111" font-weight="normal" textLength="43.85" lengthAdjust="spacingAndGlyphs">SKS3</text>
<text x="478.80" y="561.91" font-size="17.8" fill="#111" font-weight="normal" textLength="166.22" lengthAdjust="spacingAndGlyphs">淬火硬度48～56HRC</text>
<text x="3.40" y="585.09" font-size="17.6" fill="#2f6a9b" font-weight="normal" stroke="#2f6a9b" stroke-width="0.6" textLength="119.23" lengthAdjust="spacingAndGlyphs">FDZU-S1-XT7</text>
<text x="365.60" y="585.12" font-size="17.7" fill="#111" font-weight="normal" textLength="66.82" lengthAdjust="spacingAndGlyphs">SUS304</text>
<text x="561.9" y="581.84" font-size="17.8" text-anchor="middle" fill="#111">–</text>
<text x="3.40" y="608.37" font-size="17.6" fill="#2f6a9b" font-weight="normal" stroke="#2f6a9b" stroke-width="0.6" textLength="121.44" lengthAdjust="spacingAndGlyphs">FDZU-S6-XT7</text>
<text x="359.40" y="607.40" font-size="17.7" fill="#111" font-weight="normal" textLength="80.03" lengthAdjust="spacingAndGlyphs">SUS440C</text>
<text x="478.80" y="607.47" font-size="17.8" fill="#111" font-weight="normal" textLength="166.22" lengthAdjust="spacingAndGlyphs">淬火硬度48～53HRC</text>
<text x="151.20" y="199.12" font-size="17.8" fill="#111" font-weight="normal" textLength="89.70" lengthAdjust="spacingAndGlyphs">公差固定型</text>
<text x="151.20" y="479.32" font-size="17.8" fill="#111" font-weight="normal" textLength="89.70" lengthAdjust="spacingAndGlyphs">公差选择型</text>
<text x="277.20" y="86.72" font-size="17.8" fill="#111" font-weight="normal" textLength="52.83" lengthAdjust="spacingAndGlyphs">平头型</text>
<text x="277.20" y="165.20" font-size="17.8" fill="#111" font-weight="normal" textLength="52.83" lengthAdjust="spacingAndGlyphs">球面型</text>
<text x="269.25" y="244.68" font-size="17.8" fill="#111" font-weight="normal" textLength="64.02" lengthAdjust="spacingAndGlyphs">锥头R型</text>
<text x="277.20" y="312.52" font-size="17.8" fill="#111" font-weight="normal" textLength="52.83" lengthAdjust="spacingAndGlyphs">锥头型</text>
<text x="277.20" y="380.36" font-size="17.8" fill="#111" font-weight="normal" textLength="52.83" lengthAdjust="spacingAndGlyphs">平头型</text>
<text x="277.20" y="448.20" font-size="17.8" fill="#111" font-weight="normal" textLength="52.83" lengthAdjust="spacingAndGlyphs">球面型</text>
<text x="269.25" y="516.04" font-size="17.8" fill="#111" font-weight="normal" textLength="64.02" lengthAdjust="spacingAndGlyphs">锥头R型</text>
<text x="277.20" y="583.88" font-size="17.8" fill="#111" font-weight="normal" textLength="52.83" lengthAdjust="spacingAndGlyphs">锥头型</text>
<text x="721" y="107.25" font-size="17.8" text-anchor="middle" fill="#111">–</text>
<text x="685.20" y="177.34" font-size="17.8" fill="#111" font-weight="normal" textLength="77.29" lengthAdjust="spacingAndGlyphs">SR部研磨</text>
<text x="721" y="400.79" font-size="17.8" text-anchor="middle" fill="#111">–</text>
<text x="21.40" y="631.50" font-size="17.8" fill="#111" font-weight="normal" textLength="249.23" lengthAdjust="spacingAndGlyphs">SUS440C型的D部带有识别槽。</text>
<text x="22.40" y="659.50" font-size="17.8" fill="#111" font-weight="normal" stroke="#111" stroke-width="0.35" textLength="52.75" lengthAdjust="spacingAndGlyphs">平头型</text>
<text x="21.40" y="680.80" font-size="17.4" fill="#2f6a9b" font-weight="normal" stroke="#2f6a9b" stroke-width="0.6" textLength="293.61" lengthAdjust="spacingAndGlyphs">FDZU-M2/S1-X3T1/S6-X3T1/XT1</text>
<text x="128.80" y="738.30" font-size="18" fill="#111" font-weight="normal" textLength="17.81" lengthAdjust="spacingAndGlyphs">0.4</text>
<text x="159.20" y="718.35" font-size="17.5" fill="#111" font-weight="normal" textLength="19.50" lengthAdjust="spacingAndGlyphs">磨</text>
<text x="397.80" y="728.90" font-size="17.5" fill="#111" font-weight="normal" textLength="52.25" lengthAdjust="spacingAndGlyphs">2-C0.1</text>
<text x="0" y="0" font-size="17.5" fill="#f0862a" text-anchor="middle" transform="translate(418.10 767.80) rotate(-90)">D</text>
<text x="432.10" y="773.30" font-size="14" font-weight="bold" text-anchor="middle" fill="#fff" transform="rotate(-90 432.10 768.50)">5</text>
<text x="195.50" y="824.10" font-size="14" font-weight="bold" text-anchor="middle" fill="#fff">6</text>
<text x="206.60" y="827.25" font-size="17.8" fill="#f0862a" font-weight="normal" textLength="8.16" lengthAdjust="spacingAndGlyphs">L</text>
<text x="213.60" y="815.20" font-size="12.5" fill="#111" font-weight="normal" textLength="22.69" lengthAdjust="spacingAndGlyphs">+0.1</text>
<text x="220.40" y="827.00" font-size="12.5" fill="#111" font-weight="normal" textLength="7.17" lengthAdjust="spacingAndGlyphs">0</text>
<text x="550.60" y="659.55" font-size="17.8" fill="#111" font-weight="normal" stroke="#111" stroke-width="0.35" textLength="53.52" lengthAdjust="spacingAndGlyphs">球面型</text>
<text x="549.60" y="681.25" font-size="17.4" fill="#2f6a9b" font-weight="normal" stroke="#2f6a9b" stroke-width="0.6" textLength="279.81" lengthAdjust="spacingAndGlyphs">FDZU-M2/S1/M5/S6-X3T2/XT2</text>
<text x="763.00" y="738.30" font-size="18" fill="#111" font-weight="normal" textLength="17.75" lengthAdjust="spacingAndGlyphs">0.4</text>
<text x="794.40" y="718.35" font-size="17.5" fill="#111" font-weight="normal" textLength="19.50" lengthAdjust="spacingAndGlyphs">磨</text>
<text x="553.80" y="807.00" font-size="17.5" fill="#111" font-weight="normal" textLength="64.08" lengthAdjust="spacingAndGlyphs"><tspan fill="#f0862a">SR</tspan><tspan fill="#111">=</tspan><tspan fill="#f0862a">D</tspan><tspan fill="#111">/2</tspan></text>
<text x="978.40" y="728.75" font-size="17.5" fill="#111" font-weight="normal" textLength="33.69" lengthAdjust="spacingAndGlyphs">C0.1</text>
<text x="0" y="0" font-size="17.5" fill="#f0862a" text-anchor="middle" transform="translate(999.70 767.60) rotate(-90)">D</text>
<text x="1015.80" y="773.30" font-size="14" font-weight="bold" text-anchor="middle" fill="#fff" transform="rotate(-90 1015.80 768.50)">5</text>
<text x="776.80" y="824.30" font-size="14" font-weight="bold" text-anchor="middle" fill="#fff">6</text>
<text x="787.40" y="827.45" font-size="17.8" fill="#f0862a" font-weight="normal" textLength="9.13" lengthAdjust="spacingAndGlyphs">L</text>
<text x="795.40" y="815.40" font-size="12.5" fill="#111" font-weight="normal" textLength="21.66" lengthAdjust="spacingAndGlyphs">+0.1</text>
<text x="802.20" y="827.20" font-size="12.5" fill="#111" font-weight="normal" textLength="6.19" lengthAdjust="spacingAndGlyphs">0</text>
<text x="1148.00" y="816.30" font-size="17" fill="#111" font-weight="normal" textLength="91.03" lengthAdjust="spacingAndGlyphs">SR部位研磨</text>
<text x="1216.00" y="728.05" font-size="15.5" fill="#111" font-weight="normal" textLength="23.86" lengthAdjust="spacingAndGlyphs">其余</text>
<text x="1247.80" y="708.30" font-size="14" fill="#111" font-weight="normal" textLength="17.53" lengthAdjust="spacingAndGlyphs">6.3</text>
<text x="22.00" y="903.25" font-size="17.8" fill="#111" font-weight="normal" stroke="#111" stroke-width="0.35" textLength="64.81" lengthAdjust="spacingAndGlyphs">锥头R型</text>
<text x="21.20" y="924.15" font-size="17.4" fill="#2f6a9b" font-weight="normal" stroke="#2f6a9b" stroke-width="0.6" textLength="251.82" lengthAdjust="spacingAndGlyphs">FDZU-M2/S1-/S6-X3T8/XT8</text>
<text x="0" y="0" font-size="18.4" fill="#1a1a1a" transform="translate(133.5 950.3) rotate(61)">30°</text>
<text x="54.80" y="985.45" font-size="17.5" fill="#f0862a" font-weight="normal" textLength="11.00" lengthAdjust="spacingAndGlyphs">R</text>
<text x="217.34" y="969.22" font-size="18" fill="#111" font-weight="normal" textLength="16.20" lengthAdjust="spacingAndGlyphs">0.4</text>
<text x="245.53" y="951.43" font-size="17.5" fill="#111" font-weight="normal" textLength="17.39" lengthAdjust="spacingAndGlyphs">磨</text>
<text x="395.60" y="960.10" font-size="17.5" fill="#111" font-weight="normal" textLength="34.73" lengthAdjust="spacingAndGlyphs">C0.1</text>
<text x="0" y="0" font-size="17.5" fill="#f0862a" text-anchor="middle" transform="translate(415.90 994.25) rotate(-90)">D</text>
<text x="432.20" y="998.20" font-size="14" font-weight="bold" text-anchor="middle" fill="#fff" transform="rotate(-90 432.20 993.40)">5</text>
<text x="207.30" y="1046.80" font-size="14" font-weight="bold" text-anchor="middle" fill="#fff">6</text>
<text x="218.40" y="1050.45" font-size="17.8" fill="#f0862a" font-weight="normal" textLength="8.12" lengthAdjust="spacingAndGlyphs">L</text>
<text x="225.40" y="1038.40" font-size="12.5" fill="#111" font-weight="normal" textLength="22.69" lengthAdjust="spacingAndGlyphs">+0.1</text>
<text x="232.20" y="1050.20" font-size="12.5" fill="#111" font-weight="normal" textLength="7.02" lengthAdjust="spacingAndGlyphs">0</text>
<text x="549.80" y="902.50" font-size="17.8" fill="#111" font-weight="normal" stroke="#111" stroke-width="0.35" textLength="53.32" lengthAdjust="spacingAndGlyphs">锥头型</text>
<text x="548.80" y="924.85" font-size="17.4" fill="#2f6a9b" font-weight="normal" stroke="#2f6a9b" stroke-width="0.6" textLength="242.62" lengthAdjust="spacingAndGlyphs">FDZU-M2/S1/S6-X3T7/XT7</text>
<text x="0" y="0" font-size="18.4" fill="#1a1a1a" transform="translate(668.5 940.5) rotate(61)">30°</text>
<text x="782.60" y="965.50" font-size="18" fill="#111" font-weight="normal" textLength="17.75" lengthAdjust="spacingAndGlyphs">0.4</text>
<text x="813.00" y="945.55" font-size="17.5" fill="#111" font-weight="normal" textLength="19.50" lengthAdjust="spacingAndGlyphs">磨</text>
<text x="978.00" y="956.55" font-size="17.5" fill="#111" font-weight="normal" textLength="35.50" lengthAdjust="spacingAndGlyphs">C0.1</text>
<text x="0" y="0" font-size="17.5" fill="#f0862a" text-anchor="middle" transform="translate(998.80 993.75) rotate(-90)">D</text>
<text x="1014.50" y="999.70" font-size="14" font-weight="bold" text-anchor="middle" fill="#fff" transform="rotate(-90 1014.50 994.90)">5</text>
<text x="645.60" y="1053.65" font-size="17.5" fill="#f0862a" font-weight="normal" textLength="8.42" lengthAdjust="spacingAndGlyphs">E</text>
<text x="650.20" y="1072.90" font-size="14" font-weight="bold" text-anchor="middle" fill="#fff">7</text>
<text x="774.70" y="1088.10" font-size="14" font-weight="bold" text-anchor="middle" fill="#fff">6</text>
<text x="785.80" y="1091.25" font-size="17.8" fill="#f0862a" font-weight="normal" textLength="8.12" lengthAdjust="spacingAndGlyphs">L</text>
<text x="792.80" y="1079.20" font-size="12.5" fill="#111" font-weight="normal" textLength="22.69" lengthAdjust="spacingAndGlyphs">+0.1</text>
<text x="799.60" y="1091.00" font-size="12.5" fill="#111" font-weight="normal" textLength="7.02" lengthAdjust="spacingAndGlyphs">0</text>
<text x="1219.20" y="965.95" font-size="15.5" fill="#2b5ca8" font-weight="bold" textLength="32.28" lengthAdjust="spacingAndGlyphs">来图</text>
<text x="1219.20" y="983.95" font-size="15.5" fill="#2b5ca8" font-weight="bold" textLength="32.31" lengthAdjust="spacingAndGlyphs">定制</text>
<text x="1219.20" y="1018.85" font-size="37" fill="#3a3a3a" font-weight="bold" textLength="25.22" lengthAdjust="spacingAndGlyphs">A</text>
<text x="1147.80" y="1110.50" font-size="14.5" fill="#111" font-weight="normal" stroke="#111" stroke-width="0.3" textLength="132.42" lengthAdjust="spacingAndGlyphs">视角标准：第一视角</text>
<defs><g id="wm"><path fill-rule="evenodd" d="M33,0 A33,31 0 1 1 -33,0 A33,31 0 1 1 33,0 Z M26,-4 A29,26 0 1 0 -32,-4 A29,26 0 1 0 26,-4 Z"/><text x="0" y="0" font-size="27" font-weight="bold" font-style="italic" stroke="#000" stroke-width="0.8" textLength="76" lengthAdjust="spacingAndGlyphs" transform="translate(-37 9) rotate(-5)">JLC@FA</text><text x="44" y="5.5" font-size="30" font-weight="bold" stroke="#000" stroke-width="0.9" textLength="119" lengthAdjust="spacingAndGlyphs">嘉立创FA</text><text x="45" y="20.5" font-size="13.5" textLength="119" lengthAdjust="spacingAndGlyphs">WWW.JLCFA.COM</text></g></defs>
<g opacity="0.065" fill="#000">
<use href="#wm" transform="translate(-236.2 182.8) rotate(-31)"/>
<use href="#wm" transform="translate(118.5 182.8) rotate(-31)"/>
<use href="#wm" transform="translate(473.2 182.8) rotate(-31)"/>
<use href="#wm" transform="translate(827.9 182.8) rotate(-31)"/>
<use href="#wm" transform="translate(1182.6 182.8) rotate(-31)"/>
<use href="#wm" transform="translate(-65.3 485.6) rotate(-31)"/>
<use href="#wm" transform="translate(289.4 485.6) rotate(-31)"/>
<use href="#wm" transform="translate(644.1 485.6) rotate(-31)"/>
<use href="#wm" transform="translate(998.8 485.6) rotate(-31)"/>
<use href="#wm" transform="translate(-249.1 788.4) rotate(-31)"/>
<use href="#wm" transform="translate(105.6 788.4) rotate(-31)"/>
<use href="#wm" transform="translate(460.3 788.4) rotate(-31)"/>
<use href="#wm" transform="translate(815.0 788.4) rotate(-31)"/>
<use href="#wm" transform="translate(1169.7 788.4) rotate(-31)"/>
<use href="#wm" transform="translate(-78.2 1091.2) rotate(-31)"/>
<use href="#wm" transform="translate(276.5 1091.2) rotate(-31)"/>
<use href="#wm" transform="translate(631.2 1091.2) rotate(-31)"/>
<use href="#wm" transform="translate(985.9 1091.2) rotate(-31)"/>
</g>
</svg>
</body></html>
